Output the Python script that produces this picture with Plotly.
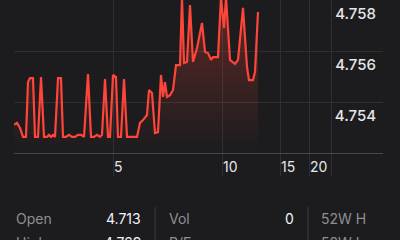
import plotly.graph_objects as go

# ---- data ----
minutes = [0, 3, 6, 9, 12, 14, 16, 19, 21, 24, 27, 30, 33, 35, 37, 39, 41, 44, 47, 49,
           52, 55, 58, 61, 64, 67, 70, 74, 77, 80, 83, 86, 88, 91, 94, 96, 99, 102, 104, 107,
           110, 113, 116, 120, 123, 126, 129, 133, 135, 138, 141, 144, 147, 149, 151, 153, 156, 159, 162, 166,
           168, 170, 173, 176, 179, 183, 188, 191, 194, 197, 199, 204, 207, 210, 212, 216, 221, 224, 229, 233,
           235, 239, 241, 244]
price = [4.75310, 4.75318, 4.75298, 4.75263, 4.75263, 4.75478, 4.75494, 4.75494, 4.75263, 4.75263,
         4.75498, 4.75263, 4.75263, 4.75271, 4.75263, 4.75271, 4.75263, 4.75494, 4.75494, 4.75263,
         4.75263, 4.75271, 4.75263, 4.75263, 4.75271, 4.75271, 4.75263, 4.75510, 4.75263, 4.75263,
         4.75271, 4.75263, 4.75271, 4.75490, 4.75263, 4.75263, 4.75506, 4.75498, 4.75263, 4.75263,
         4.75490, 4.75263, 4.75263, 4.75263, 4.75263, 4.75318, 4.75329, 4.75349, 4.75447, 4.75435,
         4.75278, 4.75282, 4.75506, 4.75420, 4.75478, 4.75420, 4.75427, 4.75447, 4.75545, 4.75545,
         4.75810, 4.75553, 4.75557, 4.75780, 4.75557, 4.75612, 4.75710, 4.75596, 4.75592, 4.75565,
         4.75576, 4.75576, 4.75810, 4.75690, 4.75810, 4.75565, 4.75549, 4.75565, 4.75769, 4.75537,
         4.75486, 4.75486, 4.75518, 4.75753]
x_tickvals = [99, 208, 266, 295, 317]
x_ticktext = ["5", "10", "15", "20", ""]
y_tickvals = [4.754, 4.756, 4.758]
y_ticktext = ["4.754", "4.756", "4.758"]
stat_labels_row1 = ["Open", "Vol", "52W H"]
stat_values_row1 = ["4.713", "0", ""]
stat_labels_row2 = ["High", "P/E", "52W L"]
stat_values_row2 = ["4.769", "", ""]

BG = "#1c1c1e"
RED = "#ff453a"
GRID = "#2f2f33"

fig = go.Figure()
fig.add_trace(go.Scatter(
    x=minutes, y=price, mode="lines",
    line=dict(color=RED, width=2.2),
    fill="tozeroy",
    fillgradient=dict(type="vertical", start=4.752, stop=4.758,
                      colorscale=[[0, "rgba(255,69,58,0.0)"], [1, "rgba(255,69,58,0.30)"]]),
    hoverinfo="skip", showlegend=False,
))

fig.update_layout(
    width=400, height=240,
    margin=dict(l=14, r=17, t=0, b=87),
    paper_bgcolor=BG, plot_bgcolor=BG,
    font=dict(family="Inter", color="#e5e5ea", size=14),
    xaxis=dict(range=[0, 369], tickvals=x_tickvals, ticktext=x_ticktext,
               showgrid=True, gridcolor=GRID, gridwidth=1,
               ticks="outside", ticklen=22, tickcolor=GRID, tickwidth=1,
               ticklabelposition="outside right", ticklabelstandoff=1,
               tickfont=dict(size=14, color="#e5e5ea"),
               zeroline=False, showline=True, linecolor="#48484c", linewidth=1,
               fixedrange=True),
    yaxis=dict(range=[4.752, 4.758], tickvals=y_tickvals, ticktext=y_ticktext,
               side="right", showgrid=True, gridcolor=GRID, gridwidth=1,
               ticklabelposition="inside bottom", ticklabelstandoff=4,
               ticklabelshift=3,
               tickfont=dict(size=15, color="#e5e5ea", weight=500),
               zeroline=False, showline=False, fixedrange=True),
)

def px_x(p):
    return (p - 14) / 369.0

def px_y(p):
    return (153 - p) / 153.0

label_x = [14, 167, 319]
value_x = [143, 296, 400]
for row_y, labels, values in [(218, stat_labels_row1, stat_values_row1),
                              (242, stat_labels_row2, stat_values_row2)]:
    for lx, vx, lab, val in zip(label_x, value_x, labels, values):
        fig.add_annotation(x=px_x(lx), y=px_y(row_y), xref="paper", yref="paper",
                           text=lab, showarrow=False, xanchor="left", yanchor="middle",
                           font=dict(size=14, color="#8e8e93"))
        if val:
            fig.add_annotation(x=px_x(vx), y=px_y(row_y), xref="paper", yref="paper",
                               text=val, showarrow=False, xanchor="right", yanchor="middle",
                               font=dict(size=14, color="#f2f2f7"))
for sx in [155, 308]:
    fig.add_shape(type="line", xref="paper", yref="paper",
                  x0=px_x(sx), x1=px_x(sx), y0=px_y(207), y1=px_y(245),
                  line=dict(color="#3a3a3c", width=1))

fig.write_html("out.html")
